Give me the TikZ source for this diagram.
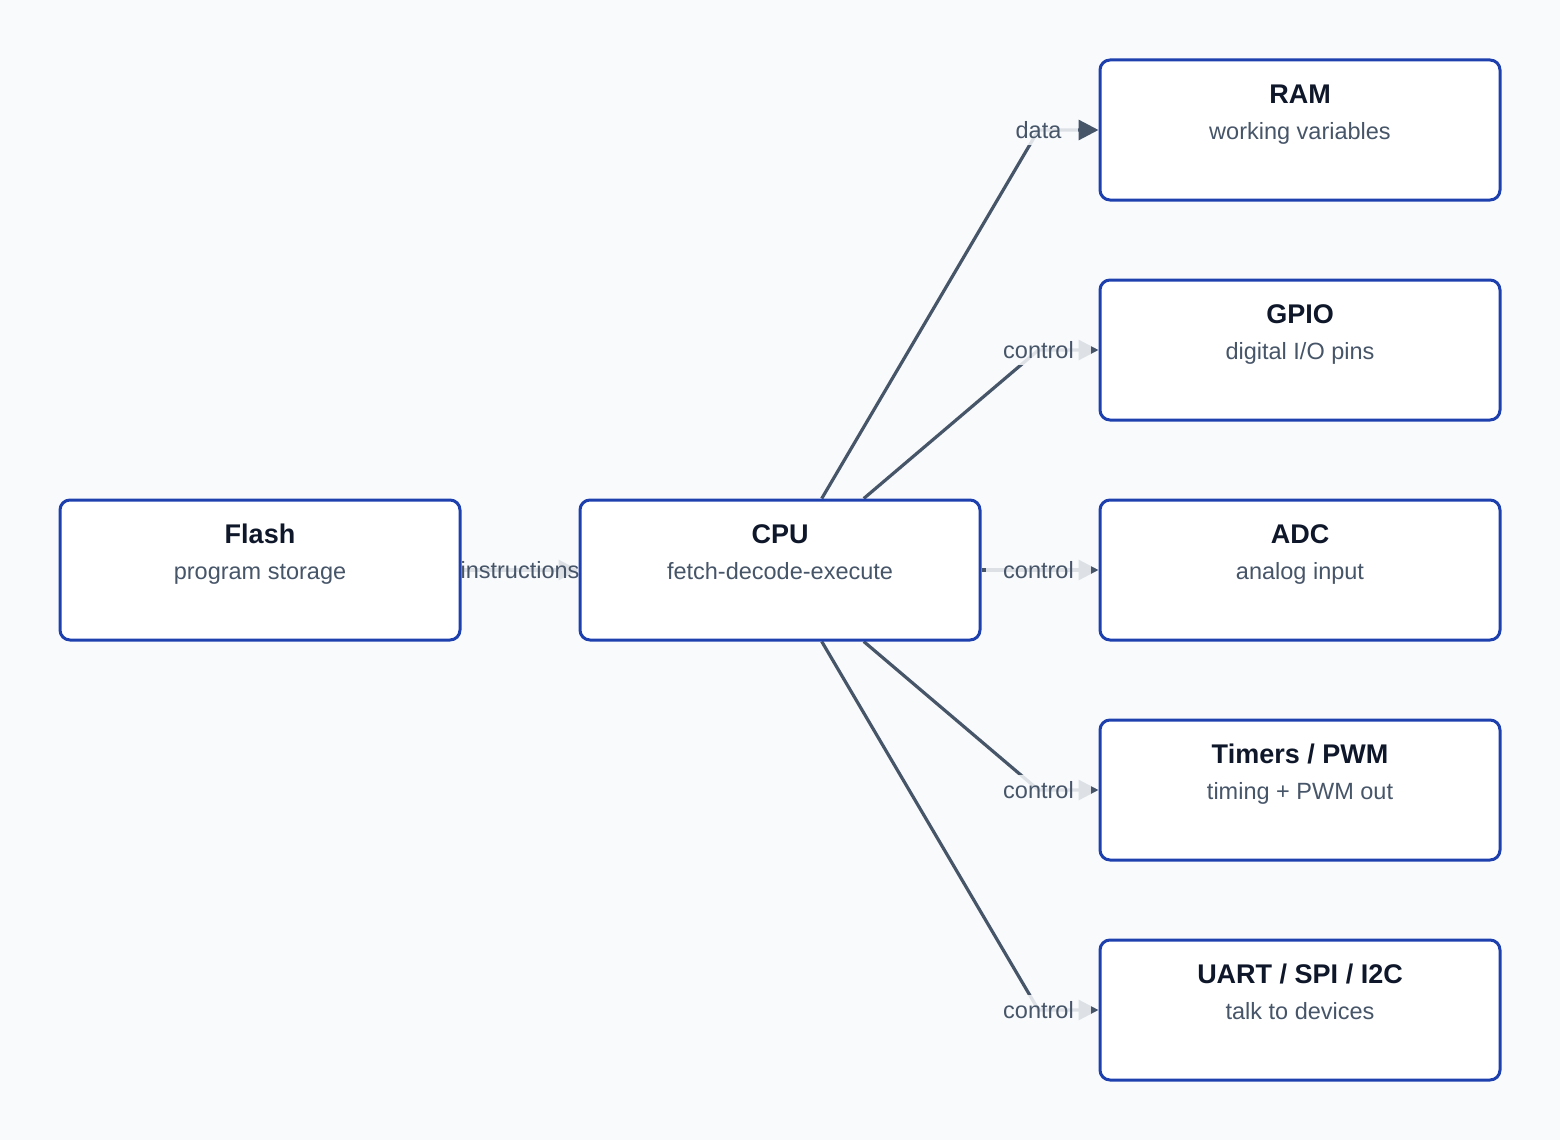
\documentclass[tikz,border=0pt]{standalone}
\usepackage{fontspec}
\setmainfont{Liberation Sans}
\usetikzlibrary{arrows.meta,positioning}
\definecolor{canvas}{HTML}{F8FAFC}
\definecolor{unitblue}{HTML}{1E40AF}
\definecolor{titleink}{HTML}{0F172A}
\definecolor{subink}{HTML}{475569}
\definecolor{linkgray}{HTML}{475569}
\pgfdeclarelayer{back}
\pgfdeclarelayer{wires}
\pgfsetlayers{back,wires,main}
\tikzset{
  unit/.style={draw=unitblue,fill=white,line width=3pt,rounded corners=10pt,
               minimum width=400pt,minimum height=140pt,inner sep=0pt},
  unittitle/.style={font=\fontsize{27}{31}\selectfont\bfseries,text=titleink,
                    anchor=base,inner sep=0pt},
  unitsub/.style={font=\fontsize{23.5}{27}\selectfont,text=subink,
                  anchor=base,inner sep=0pt},
  link/.style={-{Triangle[length=20pt,width=20pt]},line width=3.2pt,
               draw=linkgray},
  tag/.style={fill=canvas,fill opacity=0.85,text opacity=1,text=subink,
              inner xsep=17pt,inner ysep=6pt,
              font=\fontsize{23.5}{27}\selectfont}
}

\begin{document}
\begin{tikzpicture}[x=1pt,y=-1pt]
  \begin{pgfonlayer}{back}
    \path[use as bounding box,fill=canvas] (0,0) rectangle (1560,1140);
  \end{pgfonlayer}

  % units
  \node[unit] (flash) at (260,570) {};
  \node[unit] (cpu) at (780,570) {};
  \node[unit] (ram) at (1300,130) {};
  \node[unit] (gpio) at (1300,350) {};
  \node[unit] (adc) at (1300,570) {};
  \node[unit] (timers) at (1300,790) {};
  \node[unit] (uart) at (1300,1010) {};

  \node[unittitle] (flash-t) at ([yshift=-45pt]flash.north) {Flash};
  \node[unitsub] (flash-s) at ([yshift=-81pt]flash.north) {program storage};
  \node[unittitle] (cpu-t) at ([yshift=-45pt]cpu.north) {CPU};
  \node[unitsub] (cpu-s) at ([yshift=-81pt]cpu.north) {fetch-decode-execute};
  \node[unittitle] (ram-t) at ([yshift=-45pt]ram.north) {RAM};
  \node[unitsub] (ram-s) at ([yshift=-81pt]ram.north) {working variables};
  \node[unittitle] (gpio-t) at ([yshift=-45pt]gpio.north) {GPIO};
  \node[unitsub] (gpio-s) at ([yshift=-81pt]gpio.north) {digital I/O pins};
  \node[unittitle] (adc-t) at ([yshift=-45pt]adc.north) {ADC};
  \node[unitsub] (adc-s) at ([yshift=-81pt]adc.north) {analog input};
  \node[unittitle] (timers-t) at ([yshift=-45pt]timers.north) {Timers / PWM};
  \node[unitsub] (timers-s) at ([yshift=-81pt]timers.north) {timing + PWM out};
  \node[unittitle] (uart-t) at ([yshift=-45pt]uart.north) {UART / SPI / I2C};
  \node[unitsub] (uart-s) at ([yshift=-81pt]uart.north) {talk to devices};

  % bus links
  \coordinate (ram-in) at ([xshift=-60pt]ram.west);
  \coordinate (gpio-in) at ([xshift=-60pt]gpio.west);
  \coordinate (adc-in) at ([xshift=-60pt]adc.west);
  \coordinate (timers-in) at ([xshift=-60pt]timers.west);
  \coordinate (uart-in) at ([xshift=-60pt]uart.west);

  \begin{pgfonlayer}{wires}
    \draw[link] (flash) -- node[tag] (flash-tag) {instructions} (cpu);
    \draw[link] (cpu) -- (ram-in) -- (ram);
    \draw[link] (cpu) -- (gpio-in) -- (gpio);
    \draw[link] (cpu) -- (adc-in) -- (adc);
    \draw[link] (cpu) -- (timers-in) -- (timers);
    \draw[link] (cpu) -- (uart-in) -- (uart);
    \node[tag] (ram-tag) at (ram-in) {data};
    \node[tag] (gpio-tag) at (gpio-in) {control};
    \node[tag] (adc-tag) at (adc-in) {control};
    \node[tag] (timers-tag) at (timers-in) {control};
    \node[tag] (uart-tag) at (uart-in) {control};
  \end{pgfonlayer}
\end{tikzpicture}
\end{document}
